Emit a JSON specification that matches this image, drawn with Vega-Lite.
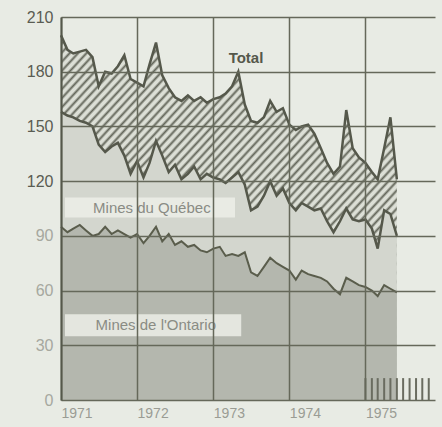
{
  "$schema": "https://vega.github.io/schema/vega-lite/v6.json",
  "width": 374,
  "height": 383,
  "autosize": {"type": "none"},
  "padding": {"left": 61, "top": 17, "right": 7, "bottom": 27},
  "background": "#e8ebe4",
  "config": {"view": {"stroke": null}, "font": "Liberation Sans"},
  "datasets": {
    "series": [
      {"date": "1971-01-01", "total": 200, "quebec_cumul": 158, "ontario": 95},
      {"date": "1971-02-01", "total": 192, "quebec_cumul": 156, "ontario": 92},
      {"date": "1971-03-01", "total": 190, "quebec_cumul": 155, "ontario": 94},
      {"date": "1971-04-01", "total": 191, "quebec_cumul": 153, "ontario": 96},
      {"date": "1971-05-01", "total": 192, "quebec_cumul": 152, "ontario": 93},
      {"date": "1971-06-01", "total": 188, "quebec_cumul": 150, "ontario": 90},
      {"date": "1971-07-01", "total": 172, "quebec_cumul": 140, "ontario": 91},
      {"date": "1971-08-01", "total": 180, "quebec_cumul": 136, "ontario": 95},
      {"date": "1971-09-01", "total": 179, "quebec_cumul": 139, "ontario": 91},
      {"date": "1971-10-01", "total": 183, "quebec_cumul": 141, "ontario": 93},
      {"date": "1971-11-01", "total": 189, "quebec_cumul": 134, "ontario": 91},
      {"date": "1971-12-01", "total": 176, "quebec_cumul": 124, "ontario": 89},
      {"date": "1972-01-01", "total": 174, "quebec_cumul": 131, "ontario": 91},
      {"date": "1972-02-01", "total": 172, "quebec_cumul": 122, "ontario": 86},
      {"date": "1972-03-01", "total": 184, "quebec_cumul": 130, "ontario": 90},
      {"date": "1972-04-01", "total": 196, "quebec_cumul": 142, "ontario": 95},
      {"date": "1972-05-01", "total": 178, "quebec_cumul": 134, "ontario": 87},
      {"date": "1972-06-01", "total": 171, "quebec_cumul": 125, "ontario": 91},
      {"date": "1972-07-01", "total": 166, "quebec_cumul": 129, "ontario": 85},
      {"date": "1972-08-01", "total": 164, "quebec_cumul": 121, "ontario": 87},
      {"date": "1972-09-01", "total": 167, "quebec_cumul": 124, "ontario": 84},
      {"date": "1972-10-01", "total": 164, "quebec_cumul": 128, "ontario": 85},
      {"date": "1972-11-01", "total": 166, "quebec_cumul": 121, "ontario": 82},
      {"date": "1972-12-01", "total": 163, "quebec_cumul": 124, "ontario": 81},
      {"date": "1973-01-01", "total": 165, "quebec_cumul": 122, "ontario": 83},
      {"date": "1973-02-01", "total": 166, "quebec_cumul": 121, "ontario": 84},
      {"date": "1973-03-01", "total": 168, "quebec_cumul": 119, "ontario": 79},
      {"date": "1973-04-01", "total": 172, "quebec_cumul": 122, "ontario": 80},
      {"date": "1973-05-01", "total": 180, "quebec_cumul": 125, "ontario": 79},
      {"date": "1973-06-01", "total": 162, "quebec_cumul": 118, "ontario": 81},
      {"date": "1973-07-01", "total": 153, "quebec_cumul": 104, "ontario": 70},
      {"date": "1973-08-01", "total": 152, "quebec_cumul": 106, "ontario": 68},
      {"date": "1973-09-01", "total": 155, "quebec_cumul": 112, "ontario": 73},
      {"date": "1973-10-01", "total": 164, "quebec_cumul": 120, "ontario": 78},
      {"date": "1973-11-01", "total": 158, "quebec_cumul": 112, "ontario": 75},
      {"date": "1973-12-01", "total": 160, "quebec_cumul": 116, "ontario": 73},
      {"date": "1974-01-01", "total": 151, "quebec_cumul": 108, "ontario": 71},
      {"date": "1974-02-01", "total": 148, "quebec_cumul": 104, "ontario": 66},
      {"date": "1974-03-01", "total": 150, "quebec_cumul": 108, "ontario": 71},
      {"date": "1974-04-01", "total": 151, "quebec_cumul": 106, "ontario": 69},
      {"date": "1974-05-01", "total": 146, "quebec_cumul": 104, "ontario": 68},
      {"date": "1974-06-01", "total": 138, "quebec_cumul": 105, "ontario": 67},
      {"date": "1974-07-01", "total": 130, "quebec_cumul": 98, "ontario": 65},
      {"date": "1974-08-01", "total": 124, "quebec_cumul": 92, "ontario": 61},
      {"date": "1974-09-01", "total": 128, "quebec_cumul": 98, "ontario": 58},
      {"date": "1974-10-01", "total": 159, "quebec_cumul": 105, "ontario": 67},
      {"date": "1974-11-01", "total": 138, "quebec_cumul": 99, "ontario": 65},
      {"date": "1974-12-01", "total": 133, "quebec_cumul": 98, "ontario": 63},
      {"date": "1975-01-01", "total": 130, "quebec_cumul": 99, "ontario": 62},
      {"date": "1975-02-01", "total": 125, "quebec_cumul": 94, "ontario": 60},
      {"date": "1975-03-01", "total": 121, "quebec_cumul": 83, "ontario": 57},
      {"date": "1975-04-01", "total": 138, "quebec_cumul": 104, "ontario": 63},
      {"date": "1975-05-01", "total": 155, "quebec_cumul": 102, "ontario": 61},
      {"date": "1975-06-01", "total": 121, "quebec_cumul": 90, "ontario": 59}
    ],
    "bars": [
      {"date": "1975-01-01", "h": 12}, {"date": "1975-02-01", "h": 12},
      {"date": "1975-03-01", "h": 12}, {"date": "1975-04-01", "h": 12},
      {"date": "1975-05-01", "h": 12}, {"date": "1975-06-01", "h": 12},
      {"date": "1975-07-01", "h": 12}, {"date": "1975-08-01", "h": 12},
      {"date": "1975-09-01", "h": 12}, {"date": "1975-10-01", "h": 12},
      {"date": "1975-11-01", "h": 12}
    ],
    "boxes": [
      {"start": "1971-01-20", "end": "1973-04-15", "lo": 100, "hi": 111},
      {"start": "1971-01-20", "end": "1973-05-15", "lo": 35, "hi": 47}
    ],
    "labels": [
      {"label": "Total", "date": "1973-06-07", "value": 187.5},
      {"label": "Mines du Québec", "date": "1972-03-12", "value": 105.5},
      {"label": "Mines de l'Ontario", "date": "1972-03-31", "value": 41}
    ]
  },
  "layer": [
    {
      "data": {"name": "series"},
      "mark": {
        "type": "area",
        "color": {
          "gradient": "linear", "x1": 0, "y1": 0, "x2": 1, "y2": 1,
          "stops": [
            {"offset": 0, "color": "#63665a"}, {"offset": 0.004, "color": "#dcdfd6"}, {"offset": 0.0085, "color": "#dcdfd6"},
            {"offset": 0.0125, "color": "#63665a"}, {"offset": 0.0165, "color": "#dcdfd6"}, {"offset": 0.021, "color": "#dcdfd6"},
            {"offset": 0.025, "color": "#63665a"}, {"offset": 0.029, "color": "#dcdfd6"}, {"offset": 0.0335, "color": "#dcdfd6"},
            {"offset": 0.0375, "color": "#63665a"}, {"offset": 0.0415, "color": "#dcdfd6"}, {"offset": 0.046, "color": "#dcdfd6"},
            {"offset": 0.05, "color": "#63665a"}, {"offset": 0.054, "color": "#dcdfd6"}, {"offset": 0.0585, "color": "#dcdfd6"},
            {"offset": 0.0625, "color": "#63665a"}, {"offset": 0.0665, "color": "#dcdfd6"}, {"offset": 0.071, "color": "#dcdfd6"},
            {"offset": 0.075, "color": "#63665a"}, {"offset": 0.079, "color": "#dcdfd6"}, {"offset": 0.0835, "color": "#dcdfd6"},
            {"offset": 0.0875, "color": "#63665a"}, {"offset": 0.0915, "color": "#dcdfd6"}, {"offset": 0.096, "color": "#dcdfd6"},
            {"offset": 0.1, "color": "#63665a"}, {"offset": 0.104, "color": "#dcdfd6"}, {"offset": 0.1085, "color": "#dcdfd6"},
            {"offset": 0.1125, "color": "#63665a"}, {"offset": 0.1165, "color": "#dcdfd6"}, {"offset": 0.121, "color": "#dcdfd6"},
            {"offset": 0.125, "color": "#63665a"}, {"offset": 0.129, "color": "#dcdfd6"}, {"offset": 0.1335, "color": "#dcdfd6"},
            {"offset": 0.1375, "color": "#63665a"}, {"offset": 0.1415, "color": "#dcdfd6"}, {"offset": 0.146, "color": "#dcdfd6"},
            {"offset": 0.15, "color": "#63665a"}, {"offset": 0.154, "color": "#dcdfd6"}, {"offset": 0.1585, "color": "#dcdfd6"},
            {"offset": 0.1625, "color": "#63665a"}, {"offset": 0.1665, "color": "#dcdfd6"}, {"offset": 0.171, "color": "#dcdfd6"},
            {"offset": 0.175, "color": "#63665a"}, {"offset": 0.179, "color": "#dcdfd6"}, {"offset": 0.1835, "color": "#dcdfd6"},
            {"offset": 0.1875, "color": "#63665a"}, {"offset": 0.1915, "color": "#dcdfd6"}, {"offset": 0.196, "color": "#dcdfd6"},
            {"offset": 0.2, "color": "#63665a"}, {"offset": 0.204, "color": "#dcdfd6"}, {"offset": 0.2085, "color": "#dcdfd6"},
            {"offset": 0.2125, "color": "#63665a"}, {"offset": 0.2165, "color": "#dcdfd6"}, {"offset": 0.221, "color": "#dcdfd6"},
            {"offset": 0.225, "color": "#63665a"}, {"offset": 0.229, "color": "#dcdfd6"}, {"offset": 0.2335, "color": "#dcdfd6"},
            {"offset": 0.2375, "color": "#63665a"}, {"offset": 0.2415, "color": "#dcdfd6"}, {"offset": 0.246, "color": "#dcdfd6"},
            {"offset": 0.25, "color": "#63665a"}, {"offset": 0.254, "color": "#dcdfd6"}, {"offset": 0.2585, "color": "#dcdfd6"},
            {"offset": 0.2625, "color": "#63665a"}, {"offset": 0.2665, "color": "#dcdfd6"}, {"offset": 0.271, "color": "#dcdfd6"},
            {"offset": 0.275, "color": "#63665a"}, {"offset": 0.279, "color": "#dcdfd6"}, {"offset": 0.2835, "color": "#dcdfd6"},
            {"offset": 0.2875, "color": "#63665a"}, {"offset": 0.2915, "color": "#dcdfd6"}, {"offset": 0.296, "color": "#dcdfd6"},
            {"offset": 0.3, "color": "#63665a"}, {"offset": 0.304, "color": "#dcdfd6"}, {"offset": 0.3085, "color": "#dcdfd6"},
            {"offset": 0.3125, "color": "#63665a"}, {"offset": 0.3165, "color": "#dcdfd6"}, {"offset": 0.321, "color": "#dcdfd6"},
            {"offset": 0.325, "color": "#63665a"}, {"offset": 0.329, "color": "#dcdfd6"}, {"offset": 0.3335, "color": "#dcdfd6"},
            {"offset": 0.3375, "color": "#63665a"}, {"offset": 0.3415, "color": "#dcdfd6"}, {"offset": 0.346, "color": "#dcdfd6"},
            {"offset": 0.35, "color": "#63665a"}, {"offset": 0.354, "color": "#dcdfd6"}, {"offset": 0.3585, "color": "#dcdfd6"},
            {"offset": 0.3625, "color": "#63665a"}, {"offset": 0.3665, "color": "#dcdfd6"}, {"offset": 0.371, "color": "#dcdfd6"},
            {"offset": 0.375, "color": "#63665a"}, {"offset": 0.379, "color": "#dcdfd6"}, {"offset": 0.3835, "color": "#dcdfd6"},
            {"offset": 0.3875, "color": "#63665a"}, {"offset": 0.3915, "color": "#dcdfd6"}, {"offset": 0.396, "color": "#dcdfd6"},
            {"offset": 0.4, "color": "#63665a"}, {"offset": 0.404, "color": "#dcdfd6"}, {"offset": 0.4085, "color": "#dcdfd6"},
            {"offset": 0.4125, "color": "#63665a"}, {"offset": 0.4165, "color": "#dcdfd6"}, {"offset": 0.421, "color": "#dcdfd6"},
            {"offset": 0.425, "color": "#63665a"}, {"offset": 0.429, "color": "#dcdfd6"}, {"offset": 0.4335, "color": "#dcdfd6"},
            {"offset": 0.4375, "color": "#63665a"}, {"offset": 0.4415, "color": "#dcdfd6"}, {"offset": 0.446, "color": "#dcdfd6"},
            {"offset": 0.45, "color": "#63665a"}, {"offset": 0.454, "color": "#dcdfd6"}, {"offset": 0.4585, "color": "#dcdfd6"},
            {"offset": 0.4625, "color": "#63665a"}, {"offset": 0.4665, "color": "#dcdfd6"}, {"offset": 0.471, "color": "#dcdfd6"},
            {"offset": 0.475, "color": "#63665a"}, {"offset": 0.479, "color": "#dcdfd6"}, {"offset": 0.4835, "color": "#dcdfd6"},
            {"offset": 0.4875, "color": "#63665a"}, {"offset": 0.4915, "color": "#dcdfd6"}, {"offset": 0.496, "color": "#dcdfd6"},
            {"offset": 0.5, "color": "#63665a"}, {"offset": 0.504, "color": "#dcdfd6"}, {"offset": 0.5085, "color": "#dcdfd6"},
            {"offset": 0.5125, "color": "#63665a"}, {"offset": 0.5165, "color": "#dcdfd6"}, {"offset": 0.521, "color": "#dcdfd6"},
            {"offset": 0.525, "color": "#63665a"}, {"offset": 0.529, "color": "#dcdfd6"}, {"offset": 0.5335, "color": "#dcdfd6"},
            {"offset": 0.5375, "color": "#63665a"}, {"offset": 0.5415, "color": "#dcdfd6"}, {"offset": 0.546, "color": "#dcdfd6"},
            {"offset": 0.55, "color": "#63665a"}, {"offset": 0.554, "color": "#dcdfd6"}, {"offset": 0.5585, "color": "#dcdfd6"},
            {"offset": 0.5625, "color": "#63665a"}, {"offset": 0.5665, "color": "#dcdfd6"}, {"offset": 0.571, "color": "#dcdfd6"},
            {"offset": 0.575, "color": "#63665a"}, {"offset": 0.579, "color": "#dcdfd6"}, {"offset": 0.5835, "color": "#dcdfd6"},
            {"offset": 0.5875, "color": "#63665a"}, {"offset": 0.5915, "color": "#dcdfd6"}, {"offset": 0.596, "color": "#dcdfd6"},
            {"offset": 0.6, "color": "#63665a"}, {"offset": 0.604, "color": "#dcdfd6"}, {"offset": 0.6085, "color": "#dcdfd6"},
            {"offset": 0.6125, "color": "#63665a"}, {"offset": 0.6165, "color": "#dcdfd6"}, {"offset": 0.621, "color": "#dcdfd6"},
            {"offset": 0.625, "color": "#63665a"}, {"offset": 0.629, "color": "#dcdfd6"}, {"offset": 0.6335, "color": "#dcdfd6"},
            {"offset": 0.6375, "color": "#63665a"}, {"offset": 0.6415, "color": "#dcdfd6"}, {"offset": 0.646, "color": "#dcdfd6"},
            {"offset": 0.65, "color": "#63665a"}, {"offset": 0.654, "color": "#dcdfd6"}, {"offset": 0.6585, "color": "#dcdfd6"},
            {"offset": 0.6625, "color": "#63665a"}, {"offset": 0.6665, "color": "#dcdfd6"}, {"offset": 0.671, "color": "#dcdfd6"},
            {"offset": 0.675, "color": "#63665a"}, {"offset": 0.679, "color": "#dcdfd6"}, {"offset": 0.6835, "color": "#dcdfd6"},
            {"offset": 0.6875, "color": "#63665a"}, {"offset": 0.6915, "color": "#dcdfd6"}, {"offset": 0.696, "color": "#dcdfd6"},
            {"offset": 0.7, "color": "#63665a"}, {"offset": 0.704, "color": "#dcdfd6"}, {"offset": 0.7085, "color": "#dcdfd6"},
            {"offset": 0.7125, "color": "#63665a"}, {"offset": 0.7165, "color": "#dcdfd6"}, {"offset": 0.721, "color": "#dcdfd6"},
            {"offset": 0.725, "color": "#63665a"}, {"offset": 0.729, "color": "#dcdfd6"}, {"offset": 0.7335, "color": "#dcdfd6"},
            {"offset": 0.7375, "color": "#63665a"}, {"offset": 0.7415, "color": "#dcdfd6"}, {"offset": 0.746, "color": "#dcdfd6"},
            {"offset": 0.75, "color": "#63665a"}, {"offset": 0.754, "color": "#dcdfd6"}, {"offset": 0.7585, "color": "#dcdfd6"},
            {"offset": 0.7625, "color": "#63665a"}, {"offset": 0.7665, "color": "#dcdfd6"}, {"offset": 0.771, "color": "#dcdfd6"},
            {"offset": 0.775, "color": "#63665a"}, {"offset": 0.779, "color": "#dcdfd6"}, {"offset": 0.7835, "color": "#dcdfd6"},
            {"offset": 0.7875, "color": "#63665a"}, {"offset": 0.7915, "color": "#dcdfd6"}, {"offset": 0.796, "color": "#dcdfd6"},
            {"offset": 0.8, "color": "#63665a"}, {"offset": 0.804, "color": "#dcdfd6"}, {"offset": 0.8085, "color": "#dcdfd6"},
            {"offset": 0.8125, "color": "#63665a"}, {"offset": 0.8165, "color": "#dcdfd6"}, {"offset": 0.821, "color": "#dcdfd6"},
            {"offset": 0.825, "color": "#63665a"}, {"offset": 0.829, "color": "#dcdfd6"}, {"offset": 0.8335, "color": "#dcdfd6"},
            {"offset": 0.8375, "color": "#63665a"}, {"offset": 0.8415, "color": "#dcdfd6"}, {"offset": 0.846, "color": "#dcdfd6"},
            {"offset": 0.85, "color": "#63665a"}, {"offset": 0.854, "color": "#dcdfd6"}, {"offset": 0.8585, "color": "#dcdfd6"},
            {"offset": 0.8625, "color": "#63665a"}, {"offset": 0.8665, "color": "#dcdfd6"}, {"offset": 0.871, "color": "#dcdfd6"},
            {"offset": 0.875, "color": "#63665a"}, {"offset": 0.879, "color": "#dcdfd6"}, {"offset": 0.8835, "color": "#dcdfd6"},
            {"offset": 0.8875, "color": "#63665a"}, {"offset": 0.8915, "color": "#dcdfd6"}, {"offset": 0.896, "color": "#dcdfd6"},
            {"offset": 0.9, "color": "#63665a"}, {"offset": 0.904, "color": "#dcdfd6"}, {"offset": 0.9085, "color": "#dcdfd6"},
            {"offset": 0.9125, "color": "#63665a"}, {"offset": 0.9165, "color": "#dcdfd6"}, {"offset": 0.921, "color": "#dcdfd6"},
            {"offset": 0.925, "color": "#63665a"}, {"offset": 0.929, "color": "#dcdfd6"}, {"offset": 0.9335, "color": "#dcdfd6"},
            {"offset": 0.9375, "color": "#63665a"}, {"offset": 0.9415, "color": "#dcdfd6"}, {"offset": 0.946, "color": "#dcdfd6"},
            {"offset": 0.95, "color": "#63665a"}, {"offset": 0.954, "color": "#dcdfd6"}, {"offset": 0.9585, "color": "#dcdfd6"},
            {"offset": 0.9625, "color": "#63665a"}, {"offset": 0.9665, "color": "#dcdfd6"}, {"offset": 0.971, "color": "#dcdfd6"},
            {"offset": 0.975, "color": "#63665a"}, {"offset": 0.979, "color": "#dcdfd6"}, {"offset": 0.9835, "color": "#dcdfd6"},
            {"offset": 0.9875, "color": "#63665a"}, {"offset": 0.9915, "color": "#dcdfd6"}, {"offset": 1, "color": "#dcdfd6"}
          ]
        }
      },
      "encoding": {
        "x": {
          "field": "date", "type": "temporal",
          "scale": {"type": "utc", "domain": [{"year": 1971, "month": 1, "date": 1, "utc": true}, {"year": 1975, "month": 12, "date": 1, "utc": true}]},
          "axis": {
            "title": null, "format": "%Y", "zindex": 1,
            "values": [{"year": 1971, "utc": true}, {"year": 1972, "utc": true}, {"year": 1973, "utc": true}, {"year": 1974, "utc": true}, {"year": 1975, "utc": true}],
            "grid": true, "gridColor": "#65685a", "gridWidth": 1.5,
            "domain": false, "ticks": false, "labelAlign": "left", "labelDx": 2,
            "labelPadding": 6, "labelFontSize": 14, "labelColor": "#9a9c94",
            "labelFlush": false, "labelOverlap": false
          }
        },
        "y": {
          "field": "total", "type": "quantitative",
          "scale": {"domain": [0, 210], "nice": false},
          "axis": {
            "title": null, "zindex": 1,
            "values": [0, 30, 60, 90, 120, 150, 180, 210],
            "grid": true, "gridColor": "#65685a", "gridWidth": 1.5,
            "domain": true, "domainColor": "#55584b", "domainWidth": 2,
            "ticks": false, "labelPadding": 8, "labelFontSize": 16,
            "labelColor": {"condition": {"test": "datum.value >= 120", "value": "#5a5c52"}, "value": "#a6a89f"}
          }
        }
      }
    },
    {
      "data": {"name": "series"},
      "mark": {"type": "area", "color": "#d3d6ce"},
      "encoding": {
        "x": {"field": "date", "type": "temporal"},
        "y": {"field": "quebec_cumul", "type": "quantitative"}
      }
    },
    {
      "data": {"name": "series"},
      "mark": {"type": "area", "color": "#b4b7ae"},
      "encoding": {
        "x": {"field": "date", "type": "temporal"},
        "y": {"field": "ontario", "type": "quantitative"}
      }
    },
    {
      "data": {"name": "bars"},
      "mark": {"type": "rule", "color": "#6a6c60", "strokeWidth": 2},
      "encoding": {
        "x": {"field": "date", "type": "temporal"},
        "y": {"field": "h", "type": "quantitative"},
        "y2": {"datum": 0}
      }
    },
    {
      "data": {"name": "series"},
      "mark": {"type": "line", "color": "#55584b", "strokeWidth": 2.5},
      "encoding": {
        "x": {"field": "date", "type": "temporal"},
        "y": {"field": "total", "type": "quantitative"}
      }
    },
    {
      "data": {"name": "series"},
      "mark": {"type": "line", "color": "#55584b", "strokeWidth": 2.5},
      "encoding": {
        "x": {"field": "date", "type": "temporal"},
        "y": {"field": "quebec_cumul", "type": "quantitative"}
      }
    },
    {
      "data": {"name": "series"},
      "mark": {"type": "line", "color": "#5a5d4c", "strokeWidth": 2},
      "encoding": {
        "x": {"field": "date", "type": "temporal"},
        "y": {"field": "ontario", "type": "quantitative"}
      }
    },
    {
      "data": {"name": "boxes"},
      "mark": {"type": "rect", "color": "#eceee8", "opacity": 0.85},
      "encoding": {
        "x": {"field": "start", "type": "temporal"},
        "x2": {"field": "end"},
        "y": {"field": "lo", "type": "quantitative"},
        "y2": {"field": "hi"}
      }
    },
    {
      "data": {"name": "labels"},
      "transform": [{"filter": "datum.label == 'Total'"}],
      "mark": {"type": "text", "fontSize": 15, "fontWeight": "bold", "color": "#55584b"},
      "encoding": {
        "x": {"field": "date", "type": "temporal"},
        "y": {"field": "value", "type": "quantitative"},
        "text": {"field": "label"}
      }
    },
    {
      "data": {"name": "labels"},
      "transform": [{"filter": "datum.label != 'Total'"}],
      "mark": {"type": "text", "fontSize": 15, "color": "#8a8c84"},
      "encoding": {
        "x": {"field": "date", "type": "temporal"},
        "y": {"field": "value", "type": "quantitative"},
        "text": {"field": "label"}
      }
    }
  ]
}
